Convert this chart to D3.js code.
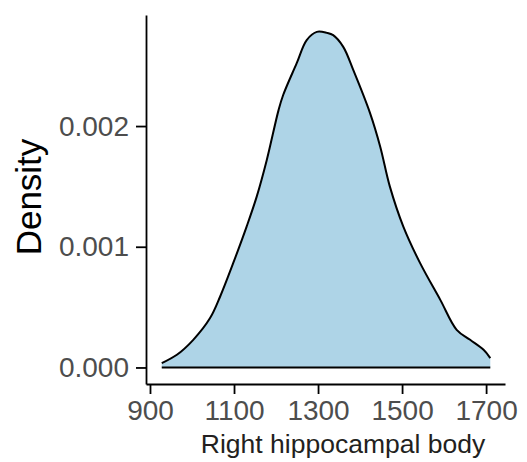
<!DOCTYPE html>
<html>
<head>
<meta charset="utf-8">
<script src="https://cdn.jsdelivr.net/npm/d3@7"></script>
<style>
  body { margin: 0; background: #fff; }
  svg text { font-family: "Liberation Sans", Arial, sans-serif; }
</style>
</head>
<body>
<div id="chart"></div>
<script>
// density estimate
const volume = [928, 964, 1003, 1043, 1067, 1098, 1130, 1154, 1178, 1206, 1217, 1249, 1273, 1297, 1321,
                1336, 1360, 1384, 1424, 1448, 1471, 1503, 1543, 1591, 1630, 1662, 1694, 1710];
const density = [0.000036, 0.000105, 0.000229, 0.000409, 0.000588, 0.000864, 0.001167, 0.001415, 0.001719,
                 0.002132, 0.002257, 0.002519, 0.002712, 0.002780, 0.002772,
                 0.002753, 0.002656, 0.002463, 0.002105, 0.001829, 0.001498, 0.001167, 0.000864, 0.000560,
                 0.000312, 0.000229, 0.000146, 0.000078];
const xTicks = [900, 1100, 1300, 1500, 1700];
const yTicks = [0, 0.001, 0.002];

const width = 527;
const height = 462;

const svg = d3.select("#chart")
    .append("svg")
    .attr("width", width)
    .attr("height", height);

const x = d3.scaleLinear().domain([890.5, 1745]).range([146, 505]);
const y = d3.scaleLinear().domain([-0.000137, 0.00292]).range([384, 15]);

const pts = volume.map((v, i) => ({ v: v, d: density[i] }));
const curve = d3.curveCatmullRom.alpha(0.5);

// filled area
const area = d3.area()
    .x(d => x(d.v))
    .y0(y(0))
    .y1(d => y(d.d))
    .curve(curve);

svg.append("path")
    .datum(pts)
    .attr("d", area)
    .attr("fill", "#aed4e7");

// upper and lower outline
const line = d3.line()
    .x(d => x(d.v))
    .y(d => y(d.d))
    .curve(curve);

svg.append("path")
    .datum(pts)
    .attr("d", line)
    .attr("fill", "none")
    .attr("stroke", "#000")
    .attr("stroke-width", 2);

svg.append("line")
    .attr("x1", x(volume[0]))
    .attr("x2", x(volume[volume.length - 1]))
    .attr("y1", y(0))
    .attr("y2", y(0))
    .attr("stroke", "#000")
    .attr("stroke-width", 2);

// axes
const xAxis = svg.append("g")
    .attr("transform", `translate(0,${384})`)
    .call(d3.axisBottom(x).tickValues(xTicks).tickSize(10).tickSizeOuter(0).tickPadding(6).tickFormat(d3.format("d")));

const yAxis = svg.append("g")
    .attr("transform", `translate(${146},0)`)
    .call(d3.axisLeft(y).tickValues(yTicks).tickSize(10).tickSizeOuter(0).tickPadding(7).tickFormat(d3.format(".3f")));

[xAxis, yAxis].forEach(g => {
    g.select(".domain").attr("stroke", "#000").attr("stroke-width", 1.8);
    g.selectAll(".tick line").attr("stroke", "#000").attr("stroke-width", 1.8);
    g.selectAll(".tick text")
        .attr("fill", "#4d4d4d")
        .style("font-size", "28px");
});

// axis titles
svg.append("text")
    .attr("x", 343)
    .attr("y", 453)
    .attr("text-anchor", "middle")
    .attr("fill", "#231f20")
    .style("font-size", "26.5px")
    .text("Right hippocampal body");

svg.append("text")
    .attr("transform", `translate(41,197) rotate(-90)`)
    .attr("text-anchor", "middle")
    .attr("fill", "#000")
    .style("font-size", "35px")
    .text("Density");
</script>
</body>
</html>
